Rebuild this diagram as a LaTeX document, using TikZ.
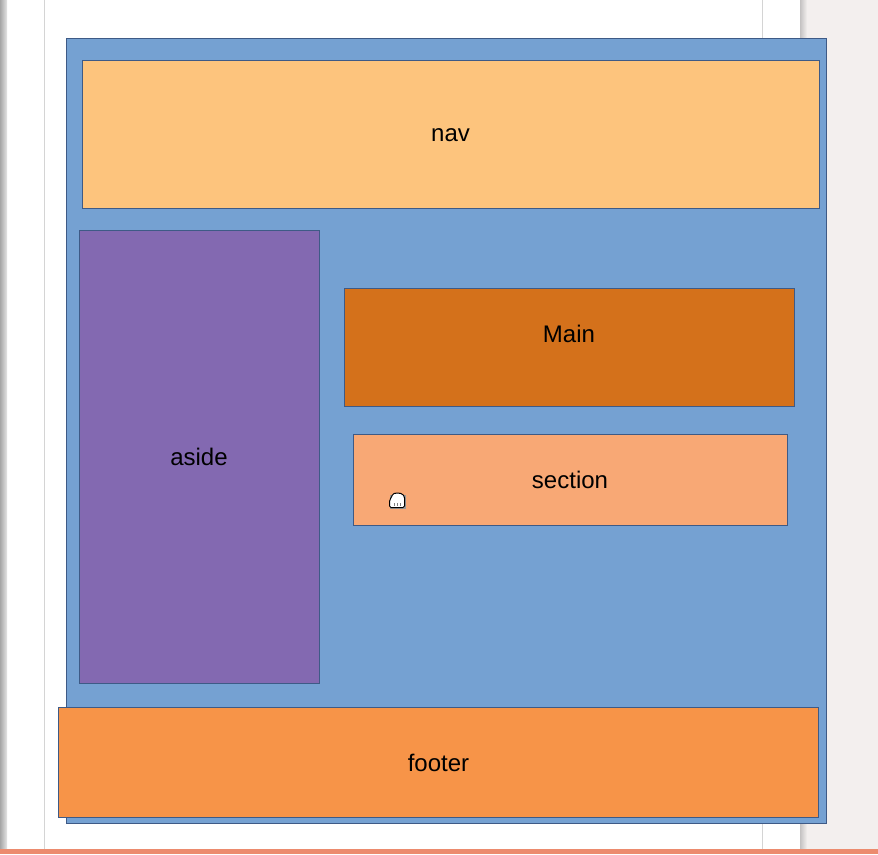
\documentclass[tikz,border=0pt]{standalone}
\usepackage{fontspec}
\setmainfont{Liberation Sans}
\definecolor{pagebg}{HTML}{FFFFFF}
\definecolor{deskbg}{HTML}{F3EFEE}
\definecolor{guide}{HTML}{D4D4D4}
\definecolor{shade}{HTML}{C4C2C2}
\definecolor{strip}{HTML}{EC8B6E}
\definecolor{bodyfill}{HTML}{75A1D2}
\definecolor{navfill}{HTML}{FDC47D}
\definecolor{asidefill}{HTML}{8369B1}
\definecolor{mainfill}{HTML}{D4711B}
\definecolor{sectfill}{HTML}{F8A875}
\definecolor{footfill}{HTML}{F79448}
\definecolor{edge}{HTML}{3E5A86}
\tikzset{
  block/.style={draw=edge, line width=1pt, inner sep=0pt, outer sep=0pt},
  lbl/.style={font=\fontsize{24}{28}\selectfont, text=black, inner sep=0pt}
}
\begin{document}
\begin{tikzpicture}[x=1pt,y=-1pt]
  \useasboundingbox (0,0) rectangle (878,854);
  % workspace backdrop
  \fill[deskbg] (0,0) rectangle (878,854);
  \fill[pagebg] (7,0) rectangle (800,849);
  \shade[left color=gray!70, right color=gray!20] (0,0) rectangle (7,849);
  \shade[left color=shade, right color=deskbg] (800,0) rectangle (807,849);
  \draw[guide, line width=1pt] (44.5,0) -- (44.5,849);
  \draw[guide, line width=1pt] (762.5,0) -- (762.5,849);
  \fill[strip] (0,849) rectangle (878,854);

  % layout blocks
  \node[block, fill=bodyfill, minimum width=760pt, minimum height=785pt, anchor=north west] (body) at (66,38) {};
  \node[block, fill=navfill, minimum width=737pt, minimum height=148pt, anchor=north west] (nav) at (82,60) {};
  \node[block, fill=asidefill, minimum width=240pt, minimum height=453pt, anchor=north west] (aside) at (79,230) {};
  \node[block, fill=mainfill, minimum width=450pt, minimum height=118pt, anchor=north west] (main) at (344,288) {};
  \node[block, fill=sectfill, minimum width=434pt, minimum height=91pt, anchor=north west] (section) at (353,434) {};
  \node[block, fill=footfill, minimum width=760pt, minimum height=110pt, anchor=north west] (footer) at (58,707) {};

  % labels
  \node[lbl] (navlbl) at (450.5,135) {nav};
  \node[lbl] (asidelbl) at (199,457) {aside};
  \node[lbl] (mainlbl) at (569,334) {Main};
  \node[lbl] (sectlbl) at (570,480) {section};
  \node[lbl] (footlbl) at (438.5,763) {footer};

  % pointer (grab hand)
  \begin{scope}[shift={(397,501)}]
    \fill[black!40] (-7,-6) rectangle (8.5,7.5);
    \draw[fill=white, line width=1pt, rounded corners=1.5pt]
      (-7.5,6.5) -- (-7.5,-1) -- (-5.5,-3.5) -- (-4.5,-7) -- (-1,-8) -- (2,-8) -- (5.5,-7) -- (7.5,-4.5) -- (7.5,6.5) -- cycle;
    \draw[black!50, line width=0.8pt] (-2.5,2) -- (-2.5,4.5) (0.5,2) -- (0.5,4.5) (3.5,2) -- (3.5,4.5);
  \end{scope}
\end{tikzpicture}
\end{document}
